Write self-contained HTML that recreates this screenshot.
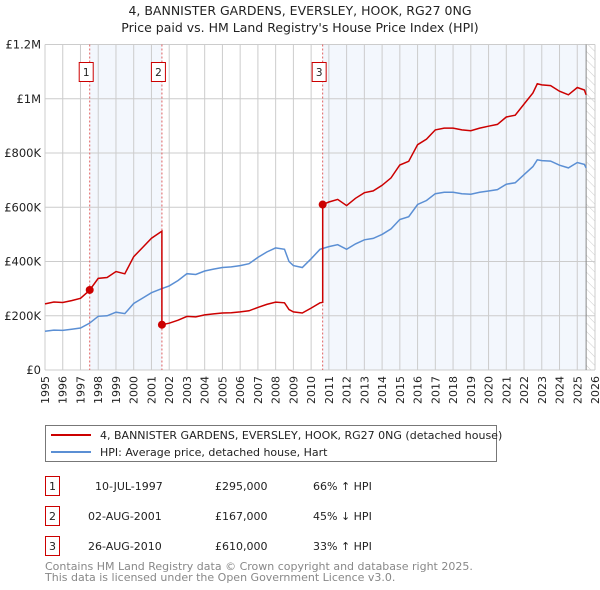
<!DOCTYPE html>
<html><head><meta charset="utf-8"><style>
body{margin:0;background:#fff;font-family:"DejaVu Sans","Liberation Sans",sans-serif;}
svg{display:block}
</style></head><body>
<svg id="c" width="600" height="590" xmlns="http://www.w3.org/2000/svg" font-family="DejaVu Sans, Liberation Sans, sans-serif">
<defs><pattern id="hatch" width="6" height="6" patternUnits="userSpaceOnUse" patternTransform="rotate(-45)"><line x1="0" y1="0" x2="0" y2="6" stroke="#ccc" stroke-width="1"/></pattern></defs>
<text x="300" y="15" text-anchor="middle" font-size="12.5" fill="#222">4, BANNISTER GARDENS, EVERSLEY, HOOK, RG27 0NG</text>
<text x="300" y="32" text-anchor="middle" font-size="12.5" fill="#222">Price paid vs. HM Land Registry's House Price Index (HPI)</text>
<g id="plot"></g>
<g>
<rect x="45.5" y="425.5" width="451" height="36" fill="#fff" stroke="#777"/>
<line x1="51" y1="435" x2="91" y2="435" stroke="#cc0000" stroke-width="2"/>
<text x="100" y="439" font-size="11" fill="#222">4, BANNISTER GARDENS, EVERSLEY, HOOK, RG27 0NG (detached house)</text>
<line x1="51" y1="452" x2="91" y2="452" stroke="#5b8fd4" stroke-width="2"/>
<text x="100" y="456" font-size="11" fill="#222">HPI: Average price, detached house, Hart</text>
</g>
<g font-size="11" fill="#222">
<rect x="45.5" y="476.5" width="14" height="19" fill="#fff" stroke="#cc0000"/><text x="52.5" y="490" text-anchor="middle">1</text>
<text x="95" y="490">10-JUL-1997</text><text x="215" y="490">£295,000</text><text x="313" y="490">66% ↑ HPI</text>
<rect x="45.5" y="506.5" width="14" height="19" fill="#fff" stroke="#cc0000"/><text x="52.5" y="520" text-anchor="middle">2</text>
<text x="88" y="520">02-AUG-2001</text><text x="215" y="520">£167,000</text><text x="313" y="520">45% ↓ HPI</text>
<rect x="45.5" y="536.5" width="14" height="19" fill="#fff" stroke="#cc0000"/><text x="52.5" y="550" text-anchor="middle">3</text>
<text x="88" y="550">26-AUG-2010</text><text x="215" y="550">£610,000</text><text x="313" y="550">33% ↑ HPI</text>
</g>
<text x="45" y="570" font-size="11" fill="#888">Contains HM Land Registry data © Crown copyright and database right 2025.</text>
<text x="45" y="581" font-size="11" fill="#888">This data is licensed under the Open Government Licence v3.0.</text>
</svg>
<script>
const hpiYears=[1995,1995.5,1996,1996.5,1997,1997.5,1998,1998.5,1999,1999.5,2000,2000.5,2001,2001.5,2002,2002.5,2003,2003.5,2004,2004.5,2005,2005.5,2006,2006.5,2007,2007.5,2008,2008.5,2008.75,2009,2009.5,2010,2010.5,2011,2011.5,2012,2012.5,2013,2013.5,2014,2014.5,2015,2015.5,2016,2016.5,2017,2017.5,2018,2018.5,2019,2019.5,2020,2020.5,2021,2021.5,2022,2022.5,2022.75,2023,2023.5,2024,2024.5,2025,2025.4,2025.5];
const hpiValues=[143,147,146,150,155,172,198,200,213,208,245,265,285,298,310,330,355,352,365,372,378,380,385,392,415,435,450,445,400,385,378,410,445,455,462,445,465,480,485,500,520,555,565,610,625,650,655,655,650,648,655,660,665,685,690,720,750,775,772,770,755,745,765,758,745];
const saleYears=[1997.52,2001.59,2010.65];
const salePrices=[295000,167000,610000];
const saleLabels=["1","2","3"];
const yTicks=[0,200000,400000,600000,800000,1000000,1200000];
const yTickLabels=["£0","£200K","£400K","£600K","£800K","£1M","£1.2M"];
const xTicks=[1995,1996,1997,1998,1999,2000,2001,2002,2003,2004,2005,2006,2007,2008,2009,2010,2011,2012,2013,2014,2015,2016,2017,2018,2019,2020,2021,2022,2023,2024,2025,2026];

const X0=45,X1=595,Y0=370,Y1=44.5;
const xs=y=>X0+(y-1995)/(2026-1995)*(X1-X0);
const ys=v=>Y0-v/1200000*(Y0-Y1);
const NS="http://www.w3.org/2000/svg";
const plot=document.getElementById('plot');
function mk(t,a,p){const e=document.createElementNS(NS,t);for(const k in a)e.setAttribute(k,a[k]);(p||plot).appendChild(e);return e;}
function hpiAt(t){for(let i=0;i<hpiYears.length-1;i++){if(t>=hpiYears[i]&&t<=hpiYears[i+1]){const f=(t-hpiYears[i])/(hpiYears[i+1]-hpiYears[i]);return (hpiValues[i]+f*(hpiValues[i+1]-hpiValues[i]))*1000;}}return hpiValues[hpiValues.length-1]*1000;}

let r=mk('rect',{x:xs(saleYears[0]),y:Y1,width:xs(saleYears[1])-xs(saleYears[0]),height:Y0-Y1,fill:'#eef3fc',opacity:0.7});

const lastY=hpiYears[hpiYears.length-1];
r=mk('rect',{x:xs(saleYears[2]),y:Y1,width:xs(lastY)-xs(saleYears[2]),height:Y0-Y1,fill:'#eef3fc',opacity:0.7});

r=mk('rect',{x:xs(lastY),y:Y1,width:X1-xs(lastY),height:Y0-Y1,fill:'url(#hatch)'});


xTicks.forEach(t=>{const l=mk('line',{x1:xs(t),x2:xs(t),y1:Y1,y2:Y0,stroke:'#ccc','stroke-width':1});

const tx=mk('text',{x:0,y:0,transform:`translate(${xs(t)+4},${Y0+6}) rotate(-90)`,'text-anchor':'end','font-size':11,fill:'#222'});tx.textContent=t;
});
yTicks.forEach((t,i)=>{const l=mk('line',{x1:X0,x2:X1,y1:ys(t),y2:ys(t),stroke:'#ccc','stroke-width':1});

const tx=mk('text',{x:X0-4,y:ys(t)+4,'text-anchor':'end','font-size':11.5,fill:'#222'});tx.textContent=yTickLabels[i];
});
let v=mk('line',{x1:xs(lastY),x2:xs(lastY),y1:Y1,y2:Y0,stroke:'#888','stroke-width':1});


saleYears.forEach((s,i)=>{const l=mk('line',{x1:xs(s),x2:xs(s),y1:Y1,y2:Y0,stroke:'#e06060','stroke-width':1,'stroke-dasharray':'2,2'});
});

let d=hpiYears.map((t,i)=>(i?'L':'M')+xs(t).toFixed(1)+','+ys(hpiValues[i]*1000).toFixed(1)).join('');
let p=mk('path',{d:d,fill:'none',stroke:'#5b8fd4','stroke-width':1.5});


let pts=[];
for(let k=0;k<=saleYears.length;k++){
  const start=k===0?1995:saleYears[k-1];
  const end=k<saleYears.length?saleYears[k]:lastY;
  const ratio=salePrices[Math.max(0,k-1)]/hpiAt(k===0?saleYears[0]:saleYears[k-1]);
  pts.push([start,hpiAt(start)*ratio]);
  hpiYears.forEach(t=>{if(t>start&&t<end)pts.push([t,hpiAt(t)*ratio]);});
  pts.push([end,hpiAt(end)*ratio]);
}
d=pts.map((q,i)=>(i?'L':'M')+xs(q[0]).toFixed(1)+','+ys(q[1]).toFixed(1)).join('');
p=mk('path',{d:d,fill:'none',stroke:'#cc0000','stroke-width':1.5});


saleYears.forEach((s,i)=>{
  const c=mk('circle',{cx:xs(s),cy:ys(salePrices[i]),r:4,fill:'#cc0000'});
  
  const bx=mk('rect',{x:xs(s)-10.5,y:62.5,width:14,height:19,fill:'#fff',stroke:'#cc0000'});
  
  const tx=mk('text',{x:xs(s)-3.5,y:76,'text-anchor':'middle','font-size':10.5,fill:'#222'});tx.textContent=saleLabels[i];
  
});
</script>
</body></html>
